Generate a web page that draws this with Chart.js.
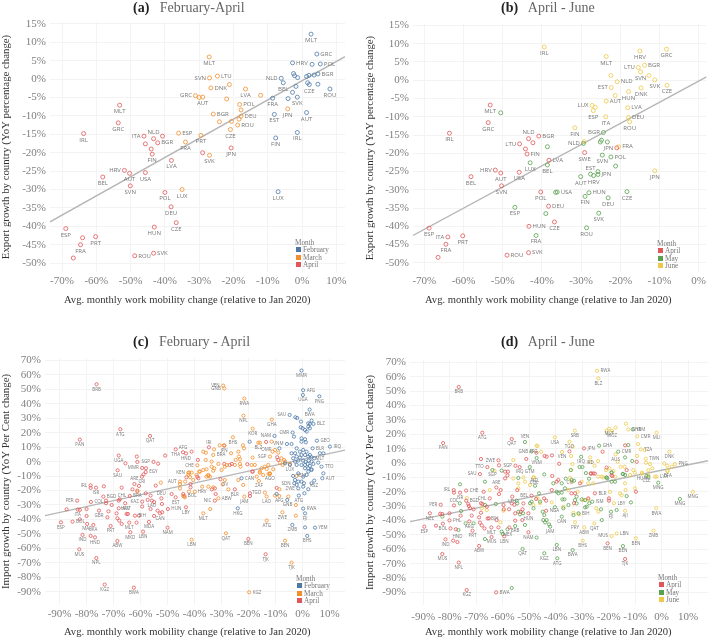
<!DOCTYPE html>
<html lang="en">
<head>
<meta charset="UTF-8">
<title>Mobility and trade growth</title>
<script src="https://cdn.jsdelivr.net/npm/chart.js"></script>
<style>
    body { margin: 0; background: #fff; font-family: "Liberation Serif", serif; }
    #page { position: relative; width: 709px; height: 638px; overflow: hidden; }
    canvas { position: absolute; }
    .title { position: absolute; font-size: 14px; line-height: 16px; color: #666; white-space: pre; }
    .title b { color: #222; }
    .xtitle { position: absolute; font-size: 10.6px; line-height: 12px; color: #333; white-space: pre; }
    .legend { position: absolute; font-size: 7.2px; line-height: 7.4px; color: #777; }
    .legend div { white-space: pre; }
    .legend i { display: inline-block; width: 5px; height: 5px; margin: 0 2px 0 1px; }
</style>
</head>
<body>
<div id="page"></div>
<script>
// ticks
const exportYTicks = [15, 10, 5, 0, -5, -10, -15, -20, -25, -30, -35, -40, -45, -50];
const importYTicks = [70, 60, 50, 40, 30, 20, 10, 0, -10, -20, -30, -40, -50, -60, -70, -80, -90];
const aXTicks = [-70, -60, -50, -40, -30, -20, -10, 0, 10];
const bXTicks = [-70, -60, -50, -40, -30, -20, -10, 0];
const cXTicks = [-90, -80, -70, -60, -50, -40, -30, -20, -10, 0, 10];
const dXTicks = cXTicks;

// trend lines
const aTrend = [[-73.5, -38.8], [12.5, 6.1]];
const bTrend = [[-72.9, -42.5], [2, 0.9]];
const cTrend = [[-95.4, -37.4], [15.7, 8]];
const dTrend = [[-95, -40.8], [17.5, 1.6]];

// panel (a): [mobility, exports, country]
const aFebruary = [[2.6,12.2,'MLT'],[4.3,6.8,'GRC'],[-2.8,4.4,'HRV'],[2.9,4],[5.3,4.1,'POL'],[-2.5,1.5],[-2.2,0.9],[-1.3,0.4],[1.3,0.7],[2,1],[3.5,1.1],[4.6,1.4,'BGR'],[-6.1,0.2,'NLD'],[-5.5,-1,'BEL'],[1.6,-1],[2.1,-1.5,'CZE'],[4.6,-1.4],[-1.8,-2],[-2.8,-3.6],[8.1,-2.7,'ROU'],[-1.4,-4.9,'SVK'],[-4.1,-5.3],[-8.6,-5.2,'FRA'],[1.3,-9.1,'AUT'],[-8.1,-9.6,'EST'],[-1.4,-14.5,'IRL'],[-7.7,-16,'FIN'],[-7,-30.6,'LUX']];
const aMarch = [[-27.1,6,'MLT'],[-24.7,0.8,'LTU'],[-27,0.3,'SVN'],[-21.2,-1.5],[-26.6,-2.4,'DNK'],[-16.5,-2.7,'LVA'],[-12.1,-4.4],[-31.1,-4.5,'GRC'],[-30,-5],[-29,-4.9,'AUT'],[-22,-5.4],[-18.2,-6.9,'POL'],[-17.8,-8.4],[-4.2,-8.1,'JPN'],[-25.9,-9.5,'BGR'],[-17.8,-10.1,'DEU'],[-18.4,-10.9],[-24.1,-11.6],[-20.6,-11.5],[-18.8,-12.5,'ROU'],[-20.9,-13.7,'CZE'],[-36,-14.7,'ESP'],[-29.5,-15.3,'PRT'],[-34,-17.1,'FRA'],[-27,-20.7,'SVK'],[-35,-30,'LUX']];
const aApril = [[-53.2,-7.1,'MLT'],[-53.6,-11.9,'GRC'],[-63.7,-14.8,'IRL'],[-46.1,-15.5,'ITA'],[-43.3,-16.2,'NLD'],[-40.7,-15.5],[-42.1,-17.3,'BGR'],[-45.7,-17.6],[-44,-19],[-43.7,-20.4,'FIN'],[-20.7,-18.7,'JPN'],[-29,-20],[-38.1,-22.1,'LVA'],[-51.8,-24.8,'HRV'],[-50.3,-25.6,'AUT'],[-45.7,-25.4,'USA'],[-58.1,-26.6,'BEL'],[-50.1,-29,'SVN'],[-40,-30.8,'POL'],[-38.2,-34.7,'DEU'],[-36.7,-39,'CZE'],[-43.1,-40.2,'HUN'],[-68.9,-40.6,'ESP'],[-64,-43.1],[-60.2,-42.8,'PRT'],[-64.6,-45,'FRA'],[-66.7,-48.6],[-48.8,-48,'ROU'],[-43.3,-47.3,'SVK']];

// panel (b)
const bApril = [[-53.2,-6.8,'MLT'],[-53.7,-11.6,'GRC'],[-63.6,-14.5,'IRL'],[-43.4,-16,'NLD'],[-40.8,-15.3,'BGR'],[-45.7,-17.4,'LTU'],[-42.3,-17.1],[-44.2,-18.8],[-43.8,-20.2,'FIN'],[-20.9,-18.5,'JPN'],[-29.1,-19.8,'SWE'],[-38.2,-21.9,'LVA'],[-51.9,-24.6,'HRV'],[-50.5,-25.4,'AUT'],[-45.8,-25.2,'USA'],[-58.1,-26.4,'BEL'],[-50.3,-28.9,'SVN'],[-40.3,-30.6,'POL'],[-38.3,-34.5,'DEU'],[-36.8,-38.8,'CZE'],[-43.3,-40,'HUN'],[-68.8,-40.5,'ESP'],[-64,-42.9,'ITA'],[-60.2,-42.6,'PRT'],[-64.5,-44.9,'FRA'],[-66.5,-48.5],[-48.9,-47.9,'ROU'],[-43.4,-47.2,'SVK']];
const bMay = [[-50.5,-8.9],[-38.6,-18.2],[-24.3,-14.3,'BGR'],[-29.4,-17.3,'NLD'],[-24.8,-16.4],[-25.1,-16.9],[-23.3,-16.9],[-24.6,-20.5,'SVN'],[-22.4,-21,'POL'],[-21.2,-23.5],[-43,-22.6,'LUX'],[-38.6,-23.2,'BEL'],[-30.1,-26.4,'AUT'],[-27.6,-25.7,'EST'],[-26.8,-26.1,'HRV'],[-25.7,-25],[-25.7,-25.8,'JPN'],[-36.5,-30.7],[-36.1,-30.6,'USA'],[-28,-30.8,'HUN'],[-29,-31.8,'FIN'],[-23.1,-32.2,'DEU'],[-18.3,-30.5,'CZE'],[-46.9,-34.8,'ESP'],[-39,-36.5],[-25.5,-36.4,'SVK'],[-28.6,-40.4,'ROU'],[-41.5,-42.5,'FRA']];
const bJune = [[-39.4,9.1,'IRL'],[-8.2,8.5,'GRC'],[-23.6,6.5,'MLT'],[-15,8,'HRV'],[-13.8,4.1,'BGR'],[-15.4,3.5,'LTU'],[-14.8,2.3,'SVN'],[-12.7,1.3],[-22.4,1.3],[-11.2,0.1,'SVK'],[-20.8,-0.4,'NLD'],[-22.3,-2,'EST'],[-14.7,-2.1,'DNK'],[-8.1,-1.4,'CZE'],[-17.9,-3.1,'HUN'],[-21.3,-4.2],[-23.6,-5.7,'AUT'],[-27.2,-6.9,'LUX'],[-26.4,-7.4],[-26.9,-8.3,'ESP'],[-18.1,-7.5,'LVA'],[-23.7,-10,'ITA'],[-17.9,-10.2,'DEU'],[-17.6,-11.4,'ROU'],[-31.6,-13,'FIN'],[-29.2,-16.8],[-20.4,-18.2,'FRA'],[-11.2,-24.8,'JPN']];

// panel (c)
const cFebruary = [[-0.4,63,'MMR'],[0.2,49.4,'AFG'],[0.1,46.1,'UGA'],[6.2,45.2,'PNG'],[2.6,36,'BWA'],[-4.8,32.3,'SAU'],[-2.7,30.7],[-2,30.2],[-0.6,27.7],[3.3,28.4],[2.1,26.5],[2.7,26.1],[4,26.1,'BLZ'],[2.1,24.2],[2.7,23.1],[-0.7,23.8],[0.9,21.9],[1.5,20.8],[0,23.1],[-3.7,20.1,'CMR'],[-3.2,17.3],[-10.4,17.8,'NAM'],[-19.6,13.8],[-5.8,12.2,'VNM'],[-4.1,12.2],[-8.6,9.2],[-0.4,16.1],[0.9,15.5],[1.2,13.4],[-0.4,13.8],[5.3,14.5,'GEO'],[10.1,10.4,'IRQ'],[7.7,5.8],[6.4,5.8,'MLT'],[3.7,9.2,'BLR'],[-4.1,5.8],[-2.8,5.8],[-2.2,9.2],[-1,6.9],[0.2,8.1],[1.5,6.9],[2.7,4.6],[-3.5,2.3],[-2.2,3.5],[-1,2.8],[-0.4,4.6],[0.9,4.6],[2.1,3.5],[3.3,3],[-2.8,0],[-1.6,0.7],[0.2,0.7],[1.1,0],[2.3,0.7],[3.3,0],[4.3,2.3],[-2.2,-2.3],[-0.4,-2.3],[0.9,-2.3],[1.9,-1.6],[2.7,-3],[4,-1.6],[0.9,-4.6],[2.1,-4.6],[3.3,-5.3],[5.8,-0.7],[7,-3.5,'TTO'],[2.1,-6.9],[3.3,-5.8],[-4.7,-2.3,'LUX'],[-6.5,-1.2],[-1.6,-8.1],[0.2,-10.4],[1.5,-9.2],[-3.5,-9.9,'YEM'],[-2.8,-12.7],[-1.6,-13.8],[-0.4,-13.8],[-2.2,-16.1],[-3.1,-15,'SDN'],[0.5,-15],[0.2,-17.3],[7.7,-8.1],[7.3,-11.5,'AUT'],[4.3,-13.1,'KSZ'],[3.3,-15],[2.1,-19.1],[-1.6,-18.5,'ZWE'],[-1.4,-23.5,'ATG'],[0.7,-21.9],[0.2,-32.5,'RWA'],[0.9,-35.8,'FJI'],[-3.8,-43.8,'ZMB'],[0.9,-45.5],[4.6,-45.7,'YEM'],[1.7,-51.4,'BHS'],[-24,-32.3,'HKG'],[-22.6,-11.5,'CAN'],[-5.7,-26.5],[-9.6,-22.4]];
const cMarch = [[-29.4,52.6,'VEN'],[-29,50.7,'GNB'],[-21.6,43.6,'RWA'],[-21.9,31.8,'NPL'],[-11.4,29.1,'GHA'],[-18.5,22.8,'KOR'],[-25.8,16.8,'BHS'],[-30.7,11.3],[-29.1,11.3,'JPN'],[-32.8,8.5],[-22.1,11.3],[-21.7,9.2],[-16.4,13.1,'BLZ'],[-15.8,13.1],[-11.5,13.8],[-36.8,6.9],[-35.8,6.2],[-33.1,4.6,'BRA'],[-35.9,1.2],[-39,-2.5,'CHE'],[-23.8,6.9],[-23.6,3.5],[-23.2,1.6],[-24.8,1.2],[-26.5,5.8],[-18.5,2.8],[-31.2,-1.6],[-33.7,0],[-33.7,-3.5],[-32.7,-4.6],[-36.8,-5.8],[-35.6,-5.3],[-38.3,-6.9],[-42.3,-7.6,'KEN'],[-41.1,-7.6],[-41.7,-10.8],[-34.9,-9.2],[-34.3,-10.4],[-30,-5.8],[-28.8,-3.5],[-28.1,-2.3],[-25.1,-2.3],[-23,-3.5],[-23.2,-1.6],[-18.9,-2.3],[-17.7,-2.3],[-14,-3.5],[-12.7,-2.3],[-15.2,-4.6],[-13.3,-5.1],[-10.9,-5.3],[-15.8,-6.9],[-12.1,-8.5,'AGO'],[-7.8,2.3],[-6.9,1.2],[-6.5,0],[-10.2,8.1,'OMR'],[-9,6.2],[-12.1,3.5,'SGP'],[-11.1,6.9],[-8.4,-0.7],[-7.4,-2.3],[-4.7,-1.6],[-52.5,-14.5],[-45.4,-13.8,'AUT'],[-45.4,-15.5],[-43.5,-13.8],[-45.4,-18.5],[-61.2,-20.8],[-44.2,-23.8],[-43.6,-24.7],[-42.1,-20.8],[-39.9,-20.8],[-40.5,-12.7],[-37.2,-17.3,'HRV'],[-34.9,-17.3],[-33.1,-17.8],[-31.2,-25.4,'ABW'],[-36.8,-35.8,'MLT'],[-34.2,-32.8],[-28.8,-12.7,'CIV'],[-27.5,-19.2],[-29.6,-15.7],[-21.6,-24.2,'JAM'],[-23.8,-12.7],[-22,-16.1],[-17,-10.4],[-16.2,-13.4,'ZAF'],[-14,-21.4,'TGO'],[-13.3,-24.2,'LAO'],[-8.6,-19.1],[-10.2,-23.5],[-8.6,-23.8,'AFG'],[-5.3,-24.2],[-2.5,-30,'GNB'],[-7.5,-35.1,'ZWE'],[-2.5,-37.4],[-13.3,-40.8,'ATG'],[-28.4,-49.6,'QAT'],[-41.1,-54,'LBN'],[-6.5,-54.7,'BEN'],[-4.1,-69.9,'TJK'],[-19.8,-90.4,'KGZ'],[-15.8,-7.6],[-14.6,-9.2],[-12.6,-8.5],[-12.1,-8.1],[-2.2,-9.9],[-33.1,-6.3],[-38,-6.9],[-42,-7.6],[-42.3,-9.2],[-35.6,-10.4],[-34.9,-9.9],[-39.3,-9.2]];
const cApril = [[-76.3,53.5,'BRB'],[-82.5,15.2,'PAN'],[-67.5,22.4,'ATG'],[-56.5,17.8,'QAT'],[-50.9,4.2],[-47,8.5,'THA'],[-44.3,6.5,'AFG'],[-41.1,6.9],[-68.1,4.2,'UGA'],[-65.6,-1.2],[-61.4,3.5],[-61.2,-0.2],[-55.2,-0.2,'SGP'],[-53.5,-1.4],[-59.4,-4.4,'MMR'],[-58,-4.6],[-68.5,-6,'SAU'],[-58.1,-7.2,'EGY'],[-58.9,-8.8],[-59.5,-10.4,'CRI'],[-38.8,1.2],[-43.2,5.7,'HND'],[-34.7,9.9,'IRI'],[-29,11.1],[-13.5,13.6],[-29,-1.6],[-26.2,-1.6],[-27,-2.3],[-20.5,-1.8],[-18.5,-6.9],[-9.4,3],[-9,1.2],[-78.5,-16.4,'IRL'],[-78.5,-18.2],[-76.5,-18,'ISR'],[-73.6,-17.1],[-67,-18],[-62.3,-15.5,'ARE'],[-60.6,-16.8],[-61.2,-20.1,'BRA'],[-63,-19.2],[-58.1,-21.9],[-54.4,-16.6],[-56.3,-23.5],[-57.4,-26.5],[-55.8,-27,'LAO'],[-55,-28],[-73.8,-24.2,'BGD'],[-83.5,-27,'PER'],[-87.4,-33],[-78.4,-27.9,'COL'],[-72.8,-27],[-72.8,-28.8],[-68.1,-27],[-67.7,-26.1],[-65.7,-28.8,'HRV'],[-64,-23.8,'CHL'],[-83.3,-33.2,'ITA'],[-82.5,-33.4],[-80,-32.8],[-75.4,-33.9,'GBR'],[-70.7,-30],[-71.9,-34.4],[-68.1,-32.3,'AUT'],[-68.9,-35.8],[-80,-37.6],[-72.3,-38.5],[-82.5,-39.9],[-85.2,-41.5,'BOL'],[-89.5,-42,'ESP'],[-68.6,-39.2],[-67.9,-40.8],[-67,-43.1],[-79.8,-43.1,'MAR'],[-77.5,-43.8,'LKA'],[-71.1,-44.5,'PRT'],[-81.5,-50.7,'IND'],[-78.5,-51.4],[-76.9,-52.4,'HND'],[-82.7,-60.7,'MUS'],[-76.4,-66.7,'NPL'],[-68.6,-54.9,'ABW'],[-63.8,-48.9,'MKD'],[-59.1,-48.4,'LBN'],[-64.2,-42.2,'MLT'],[-61.5,-42.2],[-56.9,-41.7,'MDA'],[-60.6,-37.4],[-62.1,-37.4,'BIH'],[-65.2,-36.2],[-64.7,-36.2],[-59.4,-27.7,'KAZ'],[-59.4,-31.1],[-56.3,-32.8],[-53.7,-33.9],[-52.8,-35.8,'CAN'],[-52,-35],[-55,-37.6],[-52.1,-29.3],[-52.3,-25.4,'DEU'],[-49.9,-32.8,'HUN'],[-50,-45.7,'NAM'],[-47,-24.7,'EST'],[-48.5,-22.4],[-43.2,-31.6,'LBY'],[-44.2,-22.4],[-43.8,-23.8,'BOL'],[-41.5,-17.8],[-41.5,-15.5],[-39,-10.4],[-38.6,-11.5],[-43,-10.8],[-32.5,-18.5],[-33.6,-19.2],[-32.2,-22.4],[-32.5,-27,'NIC'],[-30.4,-12.2],[-25.1,-19.2,'BLR'],[-19.5,-21.9],[-19.5,-23.8],[-20.1,-53.5,'BEN'],[-13.7,-64.1,'TJK'],[-73.3,-85.1,'KGZ'],[-62.5,-87.2,'BWA'],[-9.6,-18.2],[-18.6,-6.9]];

// panel (d)
const dApril = [[-76.6,52.9,'BRB'],[-82.5,13.9,'PAN'],[-67.7,21.1,'ATG'],[-56.6,16.7,'QAT'],[-68.2,2.8],[-61.6,1.9,'ZWE'],[-65.8,-2.8,'TTO'],[-61.4,-1.6],[-55.2,-1.9,'SGP'],[-53.6,-2.8,'IRQ'],[-59.1,-6],[-58,-6],[-58.2,-8.6],[-59.1,-10.7],[-68.6,-7.7,'SAU'],[-51.1,2.8],[-47.3,7.2],[-29.3,10.2,'JPN'],[-22.3,7.9],[-34.8,8.1],[-44.2,4.9],[-43.4,4.4],[-41.4,5.3],[-13.8,12.3],[-38.7,-0.5],[-26.7,-7.4],[-25.2,-7.4],[-20.8,-3.2],[-18.9,-8.6],[-13.2,-4.9],[-9.4,0.9],[-41.3,-9],[-78.5,-18.8,'IRL'],[-78.4,-20.6],[-76.1,-20.6,'ISR'],[-73.8,-19.2,'CHE'],[-67.2,-20],[-62.4,-17,'ARE'],[-60.8,-18.8],[-61.4,-21.6],[-54.5,-18.8],[-56.4,-23.4,'LTU'],[-64.9,-24.6,'CHL'],[-83.4,-29,'PER'],[-87.5,-35,'NZL'],[-78.4,-29.5,'COL'],[-73.8,-26.2,'BGD'],[-73,-28.5],[-72.8,-29.9],[-72.3,-31.5],[-68.2,-28],[-67.7,-28.5],[-66,-30.4],[-83.6,-35.3],[-82.8,-35.5],[-80.1,-35],[-75.9,-36.6],[-71,-32.2],[-71.7,-36.6],[-68.2,-34.6],[-68.9,-37.8],[-80.1,-39.9,'PHL'],[-72.6,-40.6,'ARG'],[-82.6,-42.2,'BOL'],[-85.2,-43.6],[-89.6,-44.3,'ESP'],[-68.6,-41.5],[-67.9,-43.4],[-66.9,-45.5],[-79.7,-45.5],[-77.7,-46.1],[-71.4,-47.1,'PRT'],[-81.6,-53.1,'IND'],[-78.7,-54],[-77.1,-55,'HND'],[-82.8,-63.3,'MUS'],[-76.6,-69.3,'NPL'],[-68.9,-57.7,'ABW'],[-64.2,-51.5,'MUS'],[-59.4,-51,'LBN'],[-64.3,-44.8,'MLT'],[-61.6,-44.8],[-57.5,-44.8],[-65.7,-38.5,'BIH'],[-65.2,-38.5],[-62.3,-39.7],[-59.6,-32.2],[-59.7,-29.2],[-56.6,-28.1],[-55.6,-29],[-57.6,-32.2],[-55.3,-35],[-53.2,-34.1],[-52.5,-32.2],[-50.3,-35,'HUN'],[-55.3,-40.1],[-52.6,-39.7],[-52.2,-28.1],[-50.3,-48.2,'NAM'],[-47.4,-25],[-49.1,-22.7,'BEL'],[-44.4,-24.6],[-43.6,-26.2],[-43.6,-33.2,'NGA'],[-41.5,-18.8],[-39.6,-13],[-39,-11.8],[-34,-21.1],[-32.7,-21.1],[-33.1,-28],[-30.8,-14.1],[-25.2,-21.1,'BLR'],[-27.7,-24.6],[-19.9,-24.6],[-19.9,-26.2],[-20.4,-55.9,'BEN'],[-13.8,-66.8,'TJK'],[-73.6,-88.4,'KGZ'],[-62.5,-90,'BWA'],[-9.7,-20],[-26.7,-7.2],[-25.8,-7.2],[-18.6,-9.1]];
const dMay = [[-51.6,14.6,'VEN'],[-49.1,8.1,'GNB'],[-47.2,3.5,'VNM'],[-63.9,-4.9,'SGP'],[-60.4,-5.3],[-54.1,-10.4],[-49.8,-2.8,'GTM'],[-10.9,23.4,'YEM'],[-23.6,12.1,'GHA'],[-12.6,12.5],[-16.4,7.9,'CMR'],[-13.8,3.9],[-11.1,1.4],[-30.4,4.4,'IRQ'],[-31,-2.8],[-29.9,-2.8],[-28.6,-7],[-34.3,-4.9],[-44.3,-7.9],[-36.2,-10.9],[-27.4,-10.9],[-20.8,-10.2],[-18.9,-6.5],[-14.5,-7.7],[-5,-9.5],[-76.1,-14.8],[-76.2,-28],[-75.7,-33.4],[-82.8,-37.3],[-74,-42],[-71,-42],[-76.7,-46.6],[-66.7,-13],[-66.7,-29.2],[-62.6,-28.5],[-66.7,-52.9],[-60.4,-47.8],[-60,-49.4],[-58.2,-46.1,'MEX'],[-55.3,-43.8,'BRB'],[-51.6,-43.1],[-47.2,-51.9],[-52.5,-59.8,'QAT'],[-44.3,-62.8,'KGZ'],[-39.6,-57,'LBN'],[-39.4,-66.3,'ATG'],[-33.6,-60.6,'BWA'],[-56.6,-87],[-14.6,-57.8,'BEN'],[-54.7,-26.2],[-54.5,-28.1],[-54.1,-33.9],[-53.5,-35.7],[-52.3,-35],[-47.8,-15.8,'NZL'],[-46.3,-21.1],[-49.7,-28],[-49.1,-26.9],[-48.4,-31.5],[-45.9,-26.9],[-44.9,-33.9],[-44.3,-36.2],[-44.7,-39.7],[-43.4,-39.7],[-44,-41.3],[-42.1,-44.3,'JAM'],[-42.5,-42.7],[-40.3,-30.8],[-37.1,-31.5],[-37.7,-37.3,'CAN'],[-37.5,-25.3],[-36.7,-25.3],[-35.2,-29.2],[-33.3,-36.2],[-31.4,-35,'BIH'],[-32.7,-25.8],[-32.1,-23.4],[-32.1,-28.1],[-30.2,-25.3],[-28.9,-25.8],[-28.3,-30.4],[-28.9,-30.9],[-27.3,-28],[-26.2,-26.9,'ISM'],[-22.6,-39.7],[-22.9,-32.2],[-19.1,-33.9,'FJI'],[-17,-32.7],[-13.2,-23],[-11.6,-27.4],[-40.9,-14.1],[-39.6,-20],[-39,-21.1],[-37.7,-20.6],[-37.7,-14.1],[-36.5,-17.6],[-34,-11.8],[-33.1,-12.3],[-20.8,-10],[-20.5,-10.7],[-18.9,-13],[-17.6,-13],[-18.9,-6.7],[-14.7,-7.6],[-13.8,-8.3],[-5.7,-9,'CZE'],[-1.3,-13.7,'MNG'],[6.9,-25,'MNG']];
const dJune = [[-24.4,64.2,'RWA'],[-23.9,58.9,'BLZ'],[-13.5,27.4],[-19.9,23.9,'MLT'],[-20.8,22.5],[-18.7,22.3,'MOZ'],[-17.4,24.6],[-12.6,23.4,'GHA'],[-9.2,18.6,'CMR'],[-1.9,21.1,'MLI'],[-8.9,13.2],[-7.9,9.5,'TZA'],[-6.4,9],[2.9,7.9,'DNK'],[-9.3,4.9],[-6,3,'TWN'],[-5.9,0.2],[-4.4,-0.7],[1,-0.2],[2.1,-1.9],[5,-0.7,'PNG'],[3.8,-2.6],[2.3,-5.3,'BFA'],[-3.5,-3.7],[-5,-4.9],[-1.9,-9.5,'LVA'],[-32.8,22.5,'SRB'],[-40.3,17.9,'USA'],[-34.8,14.8,'TGO'],[-33.6,11.4],[-37.6,7.7,'VEN'],[-45.5,7.9,'AFG'],[-46.9,11.8],[-34.2,4.9],[-33.7,-0.7],[-34.2,-4.9],[-27,3.9,'IRD'],[-26.8,0.7],[-24,1.4],[-25.3,-1.9],[-17.4,6,'AUS'],[-16.6,0.9],[-21,-4.9],[-19.7,-3.7],[-15.5,-2.6],[-14,-2.6],[-18.2,-5.6],[-10.7,-4.9],[-10.1,-6.7],[-7.4,-6.7],[-11.9,-8.3],[-17.6,-9.5],[-34.6,-10.2,'CIV'],[-48.2,-10,'COL'],[-47.2,12.1],[-56,2.1],[-63.1,-5.3],[-73.5,-24.4],[-64.9,-18.8],[-67.9,-31.5],[-66,-32.7],[-60.9,-41.3],[-59.7,-33.2],[-56,-10.7],[-54.1,-14.1],[-52.2,-10],[-48.4,-10],[-49.7,-15.3],[-51.6,-13],[-54.1,-17.6],[-48.4,-29.2],[-45.9,-28],[-46.9,-24.6],[-41.5,-27.4],[-37.1,-30.4],[-33.3,-34.6],[-32.7,-41.3,'PRY'],[-31.2,-35.7],[-29.2,-44.8,'ABW'],[-29.8,-54,'BHS'],[-25.4,-42,'QAT'],[-18.9,-50.8,'MUS'],[-17,-49,'LBN'],[-9.7,-52.4,'BEN'],[-3.1,-47.1,'ZMB'],[-2,-31.5,'BWA'],[11.8,-20,'MNG'],[-24.7,-31.5],[-23.9,-33.9],[-13.8,-33.2,'AJI'],[-35.2,-18.8],[-31.7,-20],[-34,-13],[-30.2,-13],[-27.7,-14.1],[-25.8,-14.1],[-23.9,-9.5],[-22.6,-9.5],[-22,-10],[-19.5,-20],[-15.7,-21.1],[-15.1,-22.4],[-13.8,-14.1],[-13.6,-18.8],[-10.1,-17.6],[-7.5,-7.3,'HUN'],[-5,-8.4],[-2.5,-9.5],[2.1,-5.6],[-27.7,-25.3],[-18,-28,'LBY'],[-29.6,-25.8]];

// which side a country name sits on, everything else goes below the point
const aSides = {
    February: { GRC:'r', POL:'r', BGR:'r', HRV:'r', NLD:'l' },
    March: { LTU:'r', SVN:'l', DNK:'r', GRC:'l', POL:'r', BGR:'r', DEU:'r', ROU:'r', ESP:'r' },
    April: { ITA:'l', NLD:'a', BGR:'r', HRV:'l', ROU:'r', SVK:'r' }
};
const bSides = {
    April: { NLD:'a', BGR:'r', LTU:'l', FIN:'r', LVA:'r', HRV:'l', DEU:'r', HUN:'r', ITA:'l', ROU:'r', SVK:'r', JPN:'l' },
    May: { BGR:'l', NLD:'l', POL:'r', JPN:'r', USA:'r', HUN:'r', EST:'a' },
    June: { LTU:'l', BGR:'r', NLD:'r', EST:'l', AUT:'r', LUX:'l', LVA:'r', DEU:'r', FRA:'r' }
};
const cSides = {
    February: { AFG:'r', SAU:'l', BLZ:'r', CMR:'l', NAM:'l', VNM:'l', GEO:'r', IRQ:'r', BLR:'r', TTO:'r', YEM:'r', AUT:'r', SDN:'l', ZWE:'l', RWA:'r', CAN:'r' },
    March: { VEN:'l', BRA:'r', CHE:'l', KEN:'l', OMR:'l', SGP:'l', AUT:'l', ABW:'r', TGO:'l', GNB:'l', KGZ:'r' },
    April: { AFG:'a', IRI:'a', SGP:'l', MMR:'l', EGY:'r', ARE:'a', IRL:'l', PER:'l', COL:'r', BGD:'r', CHL:'l', AUT:'r', BIH:'r', KAZ:'l', HUN:'r', BOL:'r', NIC:'l', DEU:'a' }
};
const dSides = {
    April: { ZWE:'l', TTO:'l', SGP:'l', SAU:'l', JPN:'r', IRL:'l', CHE:'r', PER:'l', BWA:'r', COL:'a', BGD:'r', CHL:'l', ARE:'a', BIH:'r', PHL:'r', BEL:'l', NGA:'r', BLR:'r', HND:'a' },
    May: { GHA:'r', GNB:'l', VEN:'a', YEM:'r', CMR:'r', BIH:'r', ISM:'r', NZL:'a' },
    June: { RWA:'r', GHA:'r', CMR:'r', TZA:'r', TWN:'r', PNG:'r', LVA:'r', AFG:'l', LBN:'r', MUS:'l', LBY:'r' }
};

const colors = { February: '#4e79a7', March: '#f28e2b', April: '#e15759', May: '#59a14f', June: '#edc948' };

function text(cls, css, html) {
    const el = document.createElement('div');
    el.className = cls;
    el.style.cssText = css;
    el.innerHTML = html;
    document.getElementById('page').appendChild(el);
}

// draws the country code next to each point, through the chart's own scales
const countryLabels = {
    id: 'countryLabels',
    afterDatasetsDraw(chart, args, opts) {
        const ctx = chart.ctx;
        ctx.save();
        ctx.font = opts.size + 'px "Open Sans"';
        ctx.fillStyle = '#777';
        chart.data.datasets.forEach(ds => {
            if (!ds.names) return;
            const sides = opts.sides[ds.label] || {};
            ds.data.forEach((p, i) => {
                const name = ds.names[i];
                if (!name) return;
                const x = chart.scales.x.getPixelForValue(p.x);
                const y = chart.scales.y.getPixelForValue(p.y);
                const side = sides[name] || 'b';
                ctx.textBaseline = 'middle';
                if (side === 'r') { ctx.textAlign = 'left'; ctx.fillText(name, x + 3.5, y); }
                else if (side === 'l') { ctx.textAlign = 'right'; ctx.fillText(name, x - 3.5, y); }
                else if (side === 'a') { ctx.textAlign = 'center'; ctx.fillText(name, x, y - opts.gap); }
                else { ctx.textAlign = 'center'; ctx.fillText(name, x, y + opts.gap); }
            });
        });
        ctx.restore();
    }
};

function drawPanel(p) {
    const canvas = document.createElement('canvas');
    canvas.style.left = p.left + 'px';
    canvas.style.top = p.top + 'px';
    canvas.style.width = p.width + 'px';
    canvas.style.height = p.height + 'px';
    canvas.width = p.width;
    canvas.height = p.height;
    document.getElementById('page').appendChild(canvas);

    const datasets = [{
        label: 'trend', type: 'scatter', showLine: true, order: 5,
        data: p.trend.map(t => ({ x: t[0], y: t[1] })),
        borderColor: '#b5b5b5', borderWidth: 1.4, pointRadius: 0
    }];
    p.series.forEach(s => {
        datasets.push({
            label: s.month, order: 1,
            data: s.rows.map(r => ({ x: r[0], y: r[1] })),
            names: s.rows.map(r => r[2] || ''),
            borderColor: colors[s.month] + 'cc', backgroundColor: 'transparent',
            borderWidth: 1, pointRadius: p.radius, clip: false
        });
    });

    new Chart(canvas, {
        type: 'scatter',
        data: { datasets },
        plugins: [countryLabels],
        options: {
            responsive: false,
            animation: false,
            layout: { autoPadding: false, padding: { top: p.plotTop - p.top, right: p.left + p.width - p.plotRight } },
            plugins: {
                legend: { display: false },
                tooltip: { enabled: false },
                countryLabels: { size: p.labelSize, gap: p.labelGap, sides: p.sides }
            },
            scales: {
                x: {
                    type: 'linear', min: p.xMin, max: p.xMax,
                    afterBuildTicks: s => { s.ticks = p.xTicks.map(v => ({ value: v })); },
                    afterFit: s => { s.height = p.top + p.height - p.plotBottom; },
                    grid: { color: '#f3f3f3', drawTicks: false },
                    border: { display: false },
                    ticks: {
                        callback: v => v + '%', autoSkip: false, maxRotation: 0, padding: p.xTickPad,
                        color: '#808080', font: { family: 'Liberation Serif', size: 11 }
                    }
                },
                y: {
                    type: 'linear', min: p.yMin, max: p.yMax,
                    afterBuildTicks: s => { s.ticks = p.yTicks.map(v => ({ value: v })); },
                    afterFit: s => { s.width = p.plotLeft - p.left; },
                    grid: { color: '#f3f3f3', drawTicks: false },
                    border: { display: false },
                    title: {
                        display: true, text: p.yTitle, color: '#333', padding: 0,
                        font: { family: 'Liberation Serif', size: 10.8 }
                    },
                    ticks: {
                        callback: v => v + '%', autoSkip: false, padding: 4,
                        color: '#808080', font: { family: 'Liberation Serif', size: 11 }
                    }
                }
            }
        }
    });

    text('title', 'left:' + p.titleX + 'px;top:' + p.titleY + 'px', '<b>' + p.tag + '</b>   ' + p.title);
    text('xtitle', 'left:' + p.xTitleX + 'px;top:' + p.xTitleY + 'px', 'Avg. monthly work mobility change (relative to Jan 2020)');
    text('legend', 'left:' + p.legendX + 'px;top:' + p.legendY + 'px',
        '<div>Month</div>' + p.series.map(s => '<div><i style="background:' + colors[s.month] + '"></i>' + s.month + '</div>').join(''));
}

drawPanel({
    tag: '(a)', title: 'February-April', titleX: 133, titleY: 0,
    left: 0, top: 0, width: 355, height: 310,
    plotLeft: 50, plotRight: 345, plotTop: 22, plotBottom: 272,
    xMin: -73.5, xMax: 12.5, yMin: -52.4, yMax: 15.5,
    xTicks: aXTicks, yTicks: exportYTicks, xTickPad: 3,
    yTitle: 'Export growth by country (YoY percentage change)',
    xTitleX: 64, xTitleY: 294, legendX: 295, legendY: 240,
    trend: aTrend, radius: 2, labelSize: 6, labelGap: 6.3, sides: aSides,
    series: [{ month: 'February', rows: aFebruary }, { month: 'March', rows: aMarch }, { month: 'April', rows: aApril }]
});

drawPanel({
    tag: '(b)', title: 'April - June', titleX: 501, titleY: 0,
    left: 364, top: 0, width: 345, height: 310,
    plotLeft: 413, plotRight: 709, plotTop: 24, plotBottom: 272,
    xMin: -72.9, xMax: 2, yMin: -52.5, yMax: 15.4,
    xTicks: bXTicks, yTicks: exportYTicks, xTickPad: 3,
    yTitle: 'Export growth by country (YoY percentage change)',
    xTitleX: 425, xTitleY: 294, legendX: 657, legendY: 241,
    trend: bTrend, radius: 2, labelSize: 6, labelGap: 6.3, sides: bSides,
    series: [{ month: 'April', rows: bApril }, { month: 'May', rows: bMay }, { month: 'June', rows: bJune }]
});

drawPanel({
    tag: '(c)', title: 'February - April', titleX: 133, titleY: 334,
    left: 0, top: 330, width: 355, height: 308,
    plotLeft: 45, plotRight: 345, plotTop: 358, plotBottom: 605,
    xMin: -95.4, xMax: 15.7, yMin: -99.2, yMax: 71.7,
    xTicks: cXTicks, yTicks: importYTicks, xTickPad: 3,
    yTitle: 'Import growth by country (YoY Per Cent change)',
    xTitleX: 64, xTitleY: 626, legendX: 296, legendY: 576,
    trend: cTrend, radius: 1.6, labelSize: 4.5, labelGap: 5, sides: cSides,
    series: [{ month: 'February', rows: cFebruary }, { month: 'March', rows: cMarch }, { month: 'April', rows: cApril }]
});

drawPanel({
    tag: '(d)', title: 'April - June', titleX: 501, titleY: 334,
    left: 364, top: 330, width: 345, height: 308,
    plotLeft: 410, plotRight: 708, plotTop: 360, plotBottom: 605,
    xMin: -95, xMax: 17.5, yMin: -98.8, yMax: 71.7,
    xTicks: dXTicks, yTicks: importYTicks, xTickPad: 6,
    yTitle: 'Import growth by country (YoY Per Cent change)',
    xTitleX: 425, xTitleY: 626, legendX: 658, legendY: 575,
    trend: dTrend, radius: 1.6, labelSize: 4.5, labelGap: 5, sides: dSides,
    series: [{ month: 'April', rows: dApril }, { month: 'May', rows: dMay }, { month: 'June', rows: dJune }]
});
</script>
</body>
</html>
